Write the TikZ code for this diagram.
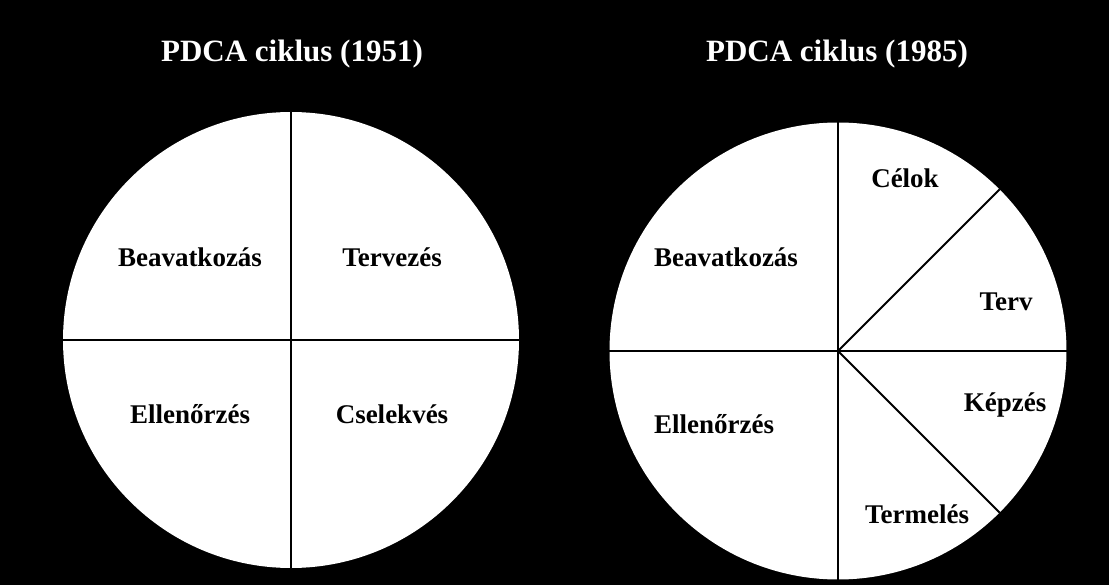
\documentclass[tikz,border=0pt]{standalone}
\usepackage{fontspec}
\setmainfont{Liberation Serif}
\begin{document}
\begin{tikzpicture}[x=1pt,y=-1pt,
  disc/.style={circle,fill=white,inner sep=0pt,minimum size=#1},
  divider/.style={draw=black,line width=1.8pt},
  lbl/.style={font=\fontsize{27}{32}\selectfont\bfseries,text=black,inner sep=0pt,anchor=base},
  ttl/.style={font=\fontsize{31}{36}\selectfont\bfseries,text=white,inner sep=0pt,anchor=base}]
% black page
\fill[black] (0,0) rectangle (1109,585);
\useasboundingbox (0,0) rectangle (1109,585);

% titles
\node[ttl] (t1) at (292,62) {PDCA ciklus (1951)};
\node[ttl] (t2) at (837,62) {PDCA ciklus (1985)};

% the two discs
\node[disc=456pt] (c1) at (291,340) {};
\node[disc=457pt] (c2) at (838,351) {};

% four quarters of the first cycle
\draw[divider] (c1.north) -- (c1.south);
\draw[divider] (c1.west) -- (c1.east);

% sectors of the second cycle
\draw[divider] (c2.north) -- (c2.south);
\draw[divider] (c2.west) -- (c2.east);
\draw[divider] (c2.center) -- (c2.45);
\draw[divider] (c2.center) -- (c2.-45);

% labels, first cycle
\node[lbl] (a1) at (190,267) {Beavatkozás};
\node[lbl] (a2) at (392,267) {Tervezés};
\node[lbl] (a3) at (190,423) {Ellenőrzés};
\node[lbl] (a4) at (392,423) {Cselekvés};

% labels, second cycle
\node[lbl] (b1) at (905,188) {Célok};
\node[lbl] (b2) at (726,267) {Beavatkozás};
\node[lbl] (b3) at (1006,311) {Terv};
\node[lbl] (b4) at (1005,411) {Képzés};
\node[lbl] (b5) at (714,433) {Ellenőrzés};
\node[lbl] (b6) at (917,523) {Termelés};
\end{tikzpicture}
\end{document}
